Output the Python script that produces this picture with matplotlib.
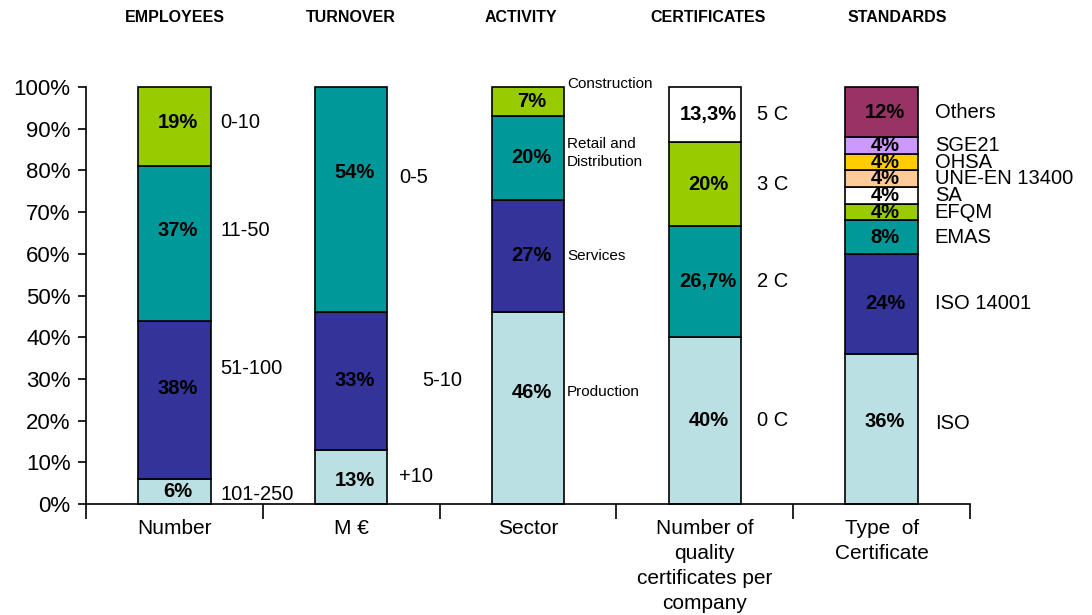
import matplotlib
matplotlib.use("Agg")
import matplotlib.pyplot as plt
import matplotlib.transforms as mtransforms

plt.rcParams['font.family'] = ['Liberation Sans', 'DejaVu Sans']

# ---- data -------------------------------------------------------------
group_titles = ["EMPLOYEES", "TURNOVER", "ACTIVITY", "CERTIFICATES", "STANDARDS"]
group_axis_labels = ["Number", "M \u20ac", "Sector",
                     "Number of\nquality\ncertificates per\ncompany",
                     "Type  of\nCertificate"]

employees_values = [6, 38, 37, 19]
employees_names = ["101-250", "51-100", "11-50", "0-10"]

turnover_values = [13, 33, 54]
turnover_names = ["+10", "5-10", "0-5"]

activity_values = [46, 27, 20, 7]
activity_names = ["Production", "Services", "Retail and\nDistribution", "Construction"]

certificates_values = [40, 26.7, 20, 13.3]
certificates_names = ["0 C", "2 C", "3 C", "5 C"]

standards_values = [36, 24, 8, 4, 4, 4, 4, 4, 12]
standards_names = ["ISO", "ISO 14001", "EMAS", "EFQM", "SA", "UNE-EN 13400",
                   "OHSA", "SGE21", "Others"]

# ---- styling -----------------------------------------------------------
LIGHT = "#BBE0E3"
NAVY = "#333399"
TEAL = "#009999"
LIME = "#99CC00"
WHITE = "#FFFFFF"
PEACH = "#FFCC99"
GOLD = "#FFCC00"
LILAC = "#CC99FF"
PLUM = "#993366"

groups = [
    (employees_values, employees_names, [LIGHT, NAVY, TEAL, LIME]),
    (turnover_values, turnover_names, [LIGHT, NAVY, TEAL]),
    (activity_values, activity_names, [LIGHT, NAVY, TEAL, LIME]),
    (certificates_values, certificates_names, [LIGHT, TEAL, LIME, WHITE]),
    (standards_values, standards_names,
     [LIGHT, NAVY, TEAL, LIME, WHITE, PEACH, GOLD, LILAC, PLUM]),
]

bar_width = 0.41
name_gap = [0.057, 0.068, 0.017, 0.09, 0.096]       # space between bar and its names
name_size = [14.5, 14.5, 11, 14.5, 14.5]
value_nudge = {(0, 1): 2.6, (0, 2): 3.0, (0, 3): 1.0, (1, 0): -0.9,
               (1, 2): 6.6, (2, 0): 3.8, (4, 0): 1.9}
name_nudge = {(0, 0): -0.7, (0, 1): 7.4, (0, 2): 3.0, (0, 3): 1.0,
              (1, 2): 5.4, (2, 0): 3.8, (2, 2): 1.1, (2, 3): 4.2, (4, 0): 1.4}
name_extra_x = {(1, 1): 0.13}
title_shift = [0.0, 0.0, -0.04, 0.02, 0.09]


def fmt_pct(v):
    return f"{v:g}%".replace(".", ",")


fig = plt.figure(figsize=(10.92, 6.15), dpi=100)
ax = fig.add_axes([86 / 1092, 111 / 615, 884 / 1092, 417 / 615])

for gi, (vals, names, cols) in enumerate(groups):
    bottom = 0.0
    for si, (v, nm, c) in enumerate(zip(vals, names, cols)):
        ax.bar(gi, v, bottom=bottom, width=bar_width, color=c,
               edgecolor="black", linewidth=1.2, clip_on=False, zorder=2)
        mid = bottom + v / 2
        ax.text(gi + 0.02, mid + value_nudge.get((gi, si), 0), fmt_pct(v),
                ha="center", va="center", fontsize=14.5, fontweight="bold",
                color="black", zorder=3)
        nx = gi + bar_width / 2 + name_gap[gi] + name_extra_x.get((gi, si), 0)
        ax.text(nx, mid + name_nudge.get((gi, si), 0), nm,
                ha="left", va="center", fontsize=name_size[gi],
                color="black", linespacing=1.35, zorder=3)
        bottom += v

# group titles above the plot
tr = mtransforms.blended_transform_factory(ax.transData, fig.transFigure)
for gi, t in enumerate(group_titles):
    ax.text(gi + title_shift[gi], 1 - 18 / 615, t, transform=tr,
            ha="center", va="center", fontsize=11.5, fontweight="bold")

# axes
ax.set_xlim(-0.5, len(groups) - 0.5)
ax.set_ylim(0, 100)
ax.set_yticks(range(0, 101, 10))
ax.set_yticklabels([f"{p}%" for p in range(0, 101, 10)], fontsize=16)
ax.tick_params(axis="y", direction="out", length=6, width=1.2, pad=5)

ax.set_xticks(range(len(groups)))
ax.set_xticklabels(group_axis_labels, fontsize=15, linespacing=1.4)
ax.tick_params(axis="x", which="major", length=0, pad=11)
ax.set_xticks([i - 0.5 for i in range(len(groups) + 1)], minor=True)
ax.tick_params(axis="x", which="minor", direction="out", length=11, width=1.2)

for side in ("top", "right"):
    ax.spines[side].set_visible(False)
for side in ("left", "bottom"):
    ax.spines[side].set_linewidth(1.2)

fig.savefig("out.png", dpi=100)
